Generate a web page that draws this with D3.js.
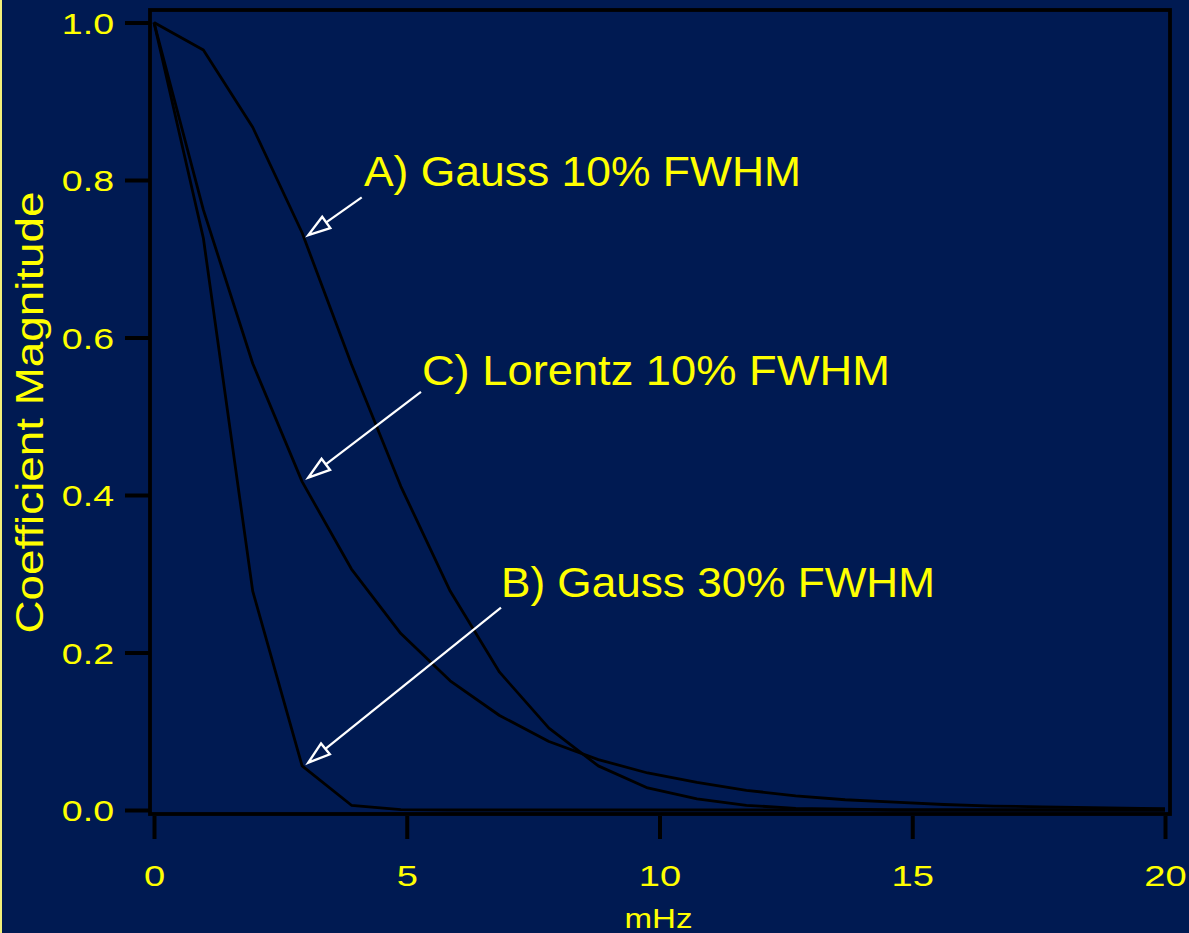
<!DOCTYPE html>
<html>
<head>
<meta charset="utf-8">
<script src="https://cdn.jsdelivr.net/npm/d3@7"></script>
<style>
  html, body { margin: 0; padding: 0; background: #001a52; }
  svg { display: block; }
  text { font-family: "Liberation Sans", Arial, sans-serif; fill: #ffff00; }
</style>
</head>
<body>
<svg id="chart" width="1189" height="933"></svg>
<script>
// Frequency samples (mHz) of the filter coefficients
const freqs = [0, 0.977, 1.953, 2.930, 3.906, 4.883, 5.859, 6.836, 7.813, 8.789, 9.766,
               10.742, 11.719, 12.695, 13.672, 14.648, 15.625, 16.602, 17.578, 18.555, 19.531, 20.508];

// Coefficient magnitude of each apodization filter
const gauss10   = [1.000, 0.965, 0.867, 0.733, 0.566, 0.411, 0.278, 0.175, 0.104, 0.056, 0.028,
                   0.014, 0.006, 0.002, 0.001, 0, 0, 0, 0, 0, 0, 0];
const gauss30   = [1.000, 0.726, 0.278, 0.056, 0.006, 0.0005, 0, 0, 0, 0, 0,
                   0, 0, 0, 0, 0, 0, 0, 0, 0, 0, 0];
const lorentz10 = [1.000, 0.762, 0.567, 0.417, 0.306, 0.224, 0.164, 0.120, 0.087, 0.064, 0.047,
                   0.035, 0.025, 0.018, 0.013, 0.010, 0.007, 0.005, 0.004, 0.003, 0.002, 0.0015];

const seriesList = [gauss10, gauss30, lorentz10];

// Axis ticks
const xTicks = [0, 5, 10, 15, 20];
const yTicks = [0.0, 0.2, 0.4, 0.6, 0.8, 1.0];

// Callout labels
const calloutLabels = ["A) Gauss 10% FWHM", "C) Lorentz 10% FWHM", "B) Gauss 30% FWHM"];

const W = 1189, H = 933;
const BG = "#001a52";

const svg = d3.select("#chart");
svg.append("rect").attr("width", W).attr("height", H).attr("fill", BG);
// thin pale edge on the left of the slide
svg.append("rect").attr("x", 0).attr("y", 0).attr("width", 2).attr("height", H).attr("fill", "#f2f07a");

const x = d3.scaleLinear().domain([0, 20]).range([154, 1165]);
const y = d3.scaleLinear().domain([0, 1]).range([810, 22.5]);

// widen a text element horizontally by a factor
function stretch(sel, factor) {
  sel.each(function () {
    const len = this.getComputedTextLength();
    d3.select(this).attr("textLength", len * factor).attr("lengthAdjust", "spacingAndGlyphs");
  });
}

// plot frame
const frame = { left: x(0) - 4, top: y(1) - 12.5, right: x(20) + 5, bottom: y(0) + 4 };
svg.append("rect")
  .attr("x", frame.left).attr("y", frame.top)
  .attr("width", frame.right - frame.left).attr("height", frame.bottom - frame.top)
  .attr("fill", "none").attr("stroke", "#000").attr("stroke-width", 3.8);

// y axis
const yAxis = svg.append("g")
  .attr("transform", `translate(${frame.left - 1},0)`)
  .call(d3.axisLeft(y).tickValues(yTicks).tickFormat(d3.format(".1f")).tickSize(24).tickPadding(11));
yAxis.select(".domain").remove();
yAxis.selectAll(".tick line").attr("stroke", "#000").attr("stroke-width", 4);
yAxis.selectAll(".tick text")
  .attr("font-size", 30).attr("fill", "#ffff00")
  .style("font-family", "'Liberation Sans', Arial, sans-serif")
  .attr("dy", "0.36em")
  .call(stretch, 1.25);

// x axis
const xAxis = svg.append("g")
  .attr("transform", `translate(0,${frame.bottom + 2})`)
  .call(d3.axisBottom(x).tickValues(xTicks).tickFormat(d3.format("d")).tickSize(23).tickPadding(26));
xAxis.select(".domain").remove();
xAxis.selectAll(".tick line").attr("stroke", "#000").attr("stroke-width", 4);
xAxis.selectAll(".tick text")
  .attr("font-size", 30).attr("fill", "#ffff00")
  .style("font-family", "'Liberation Sans', Arial, sans-serif")
  .attr("dy", "0.71em")
  .call(stretch, 1.27);

// axis titles
svg.append("text")
  .attr("transform", `translate(43,${(193 + 632) / 2}) rotate(-90)`)
  .attr("text-anchor", "middle")
  .attr("font-size", 39)
  .attr("textLength", 442).attr("lengthAdjust", "spacingAndGlyphs")
  .text("Coefficient  Magnitude");

svg.append("text")
  .attr("x", x(10) - 1).attr("y", 928)
  .attr("text-anchor", "middle")
  .attr("font-size", 28)
  .attr("textLength", 68).attr("lengthAdjust", "spacingAndGlyphs")
  .text("mHz");

// curves
svg.append("clipPath").attr("id", "plot-clip")
  .append("rect").attr("x", x(0) - 3).attr("y", 0).attr("width", x(20) - x(0) + 3).attr("height", H);

const line = d3.line()
  .x((d, i) => x(freqs[i]))
  .y(d => y(d));

svg.append("g").attr("clip-path", "url(#plot-clip)")
  .selectAll("path").data(seriesList).join("path")
  .attr("d", line)
  .attr("fill", "none").attr("stroke", "#000")
  .attr("stroke-width", 2.8).attr("stroke-linejoin", "round");

// callouts: text anchor, arrow tail and arrow tip in data units
const callouts = [
  { label: calloutLabels[0], tx: 4.154, ty: 0.7924, len: 437, tail: [4.109, 0.778], tip: [3.052, 0.730] },
  { label: calloutLabels[1], tx: 5.30,  ty: 0.5397, len: 468, tail: [5.281, 0.5308], tip: [3.052, 0.422] },
  { label: calloutLabels[2], tx: 6.864, ty: 0.2705, len: 434, tail: [6.864, 0.2569], tip: [3.052, 0.0601] }
];

const headLen = 22, headHalf = 7;
const ann = svg.append("g");
callouts.forEach(c => {
  const x0 = x(c.tail[0]), y0 = y(c.tail[1]);
  const x1 = x(c.tip[0]),  y1 = y(c.tip[1]);
  const dx = x0 - x1, dy = y0 - y1, L = Math.hypot(dx, dy);
  const ux = dx / L, uy = dy / L;
  const bx = x1 + ux * headLen, by = y1 + uy * headLen;
  ann.append("line")
    .attr("x1", x0).attr("y1", y0).attr("x2", bx).attr("y2", by)
    .attr("stroke", "#fff").attr("stroke-width", 2.2);
  ann.append("path")
    .attr("d", `M${x1},${y1}L${bx - uy * headHalf},${by + ux * headHalf}L${bx + uy * headHalf},${by - ux * headHalf}Z`)
    .attr("fill", BG).attr("stroke", "#fff").attr("stroke-width", 2.4).attr("stroke-linejoin", "miter");
  ann.append("text")
    .attr("x", x(c.tx)).attr("y", y(c.ty))
    .attr("font-size", 43)
    .attr("textLength", c.len).attr("lengthAdjust", "spacingAndGlyphs")
    .text(c.label);
});
</script>
</body>
</html>
